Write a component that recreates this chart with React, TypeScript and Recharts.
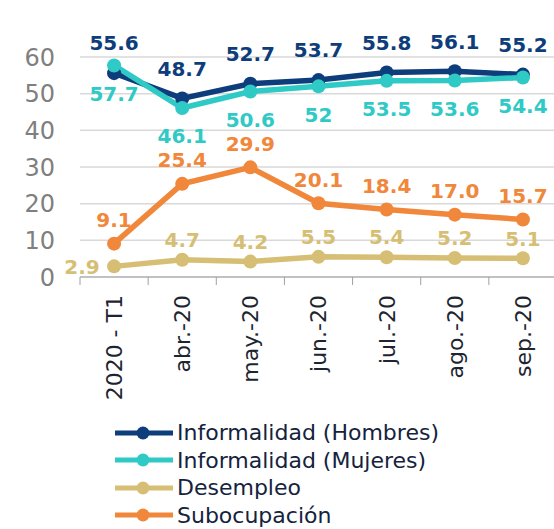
import {
  LineChart,
  Line,
  XAxis,
  YAxis,
  CartesianGrid,
  Legend,
} from 'recharts';

const periods = ['2020 - T1', 'abr.-20', 'may.-20', 'jun.-20', 'jul.-20', 'ago.-20', 'sep.-20'];
const hombres = [55.6, 48.7, 52.7, 53.7, 55.8, 56.1, 55.2];
const mujeres = [57.7, 46.1, 50.6, 52, 53.5, 53.6, 54.4];
const desempleo = [2.9, 4.7, 4.2, 5.5, 5.4, 5.2, 5.1];
const subocupacion = [9.1, 25.4, 29.9, 20.1, 18.4, 17.0, 15.7];
const yTicks = [0, 10, 20, 30, 40, 50, 60];

const data = periods.map((p, i) => ({
  period: p,
  hombres: hombres[i],
  mujeres: mujeres[i],
  desempleo: desempleo[i],
  subocupacion: subocupacion[i],
}));

const FONT = '"DejaVu Sans", "Liberation Sans", Arial, sans-serif';
const AXIS_GRAY = '#a0a0a0';

const SERIES = [
  { key: 'hombres', name: 'Informalidad (Hombres)', color: '#0d3d7a' },
  { key: 'mujeres', name: 'Informalidad (Mujeres)', color: '#2fcac6' },
  { key: 'desempleo', name: 'Desempleo', color: '#d6bf74' },
  { key: 'subocupacion', name: 'Subocupación', color: '#f0873a' },
];

// label renderer: offset from the point, optional override for the first point
const makeLabel =
  (color: string, dy: number, fmt: (v: number) => string, firstDx?: number) =>
  (props: any) => {
    const { x, y, value, index } = props;
    const left = index === 0 && firstDx !== undefined;
    return (
      <text
        x={left ? x + firstDx : x}
        y={left ? y : y + dy}
        dy="0.36em"
        textAnchor="middle"
        fill={color}
        fontFamily={FONT}
        fontWeight="bold"
        fontSize={20}
      >
        {fmt(value)}
      </text>
    );
  };

// rotated label + Excel-style tick marks between categories
const XTick = (props: any) => {
  const { x, y, payload, index, visibleTicksCount, width } = props;
  const half = width && visibleTicksCount ? width / visibleTicksCount / 2 : 0;
  const last = index === visibleTicksCount - 1;
  return (
    <g>
      <line x1={x - half} y1={y - 8} x2={x - half} y2={y} stroke={AXIS_GRAY} />
      {last && <line x1={x + half} y1={y - 8} x2={x + half} y2={y} stroke={AXIS_GRAY} />}
      <text
        transform={`translate(${x},${y + 10}) rotate(-90)`}
        textAnchor="end"
        dy="0.36em"
        fill="#1e2530"
        fontFamily={FONT}
        fontSize={22}
      >
        {payload.value}
      </text>
    </g>
  );
};

const renderLegend = () => (
  <div style={{ paddingLeft: 115, fontFamily: FONT, fontSize: 22, color: '#14233d' }}>
    {SERIES.map((s) => (
      <div key={s.key} style={{ display: 'flex', alignItems: 'center', height: 27.5 }}>
        <svg width={58} height={14} style={{ marginRight: 4 }}>
          <line x1={0} y1={7} x2={58} y2={7} stroke={s.color} strokeWidth={5} />
          <circle cx={28} cy={7} r={6.5} fill={s.color} />
        </svg>
        <span style={{ lineHeight: '27px' }}>{s.name}</span>
      </div>
    ))}
  </div>
);

export default function App() {
  return (
    <div style={{ position: 'absolute', left: 0, top: 0, width: 554, height: 529, overflow: 'hidden', background: '#fff' }}>
      <LineChart
        width={560}
        height={529}
        data={data}
        margin={{ top: 57, right: 3, left: 0, bottom: 0 }}
      >
        <CartesianGrid horizontal vertical={false} stroke="#d9d9d9" strokeWidth={1.5} />
        <XAxis
          dataKey="period"
          scale="band"
          height={142}
          stroke={AXIS_GRAY}
          axisLine={{ stroke: AXIS_GRAY, strokeWidth: 1 }}
          tickLine={false}
          tickSize={8}
          tickMargin={0}
          interval={0}
          tick={<XTick />}
        />
        <YAxis
          width={80}
          domain={[0, 60]}
          ticks={yTicks}
          axisLine={false}
          tickLine={false}
          tickSize={0}
          tickMargin={25}
          tick={{ fill: '#7f7f7f', fontSize: 24, fontFamily: FONT }}
        />
        <Legend verticalAlign="bottom" height={110} content={renderLegend} />
        <Line
          dataKey="hombres"
          stroke="#0d3d7a"
          strokeWidth={5.5}
          dot={{ r: 7, fill: '#0d3d7a', stroke: '#0d3d7a', strokeWidth: 0 }}
          isAnimationActive={false}
          label={makeLabel('#0d3d7a', -30, (v) => String(v))}
        />
        <Line
          dataKey="mujeres"
          stroke="#2fcac6"
          strokeWidth={5.5}
          dot={{ r: 7, fill: '#2fcac6', stroke: '#2fcac6', strokeWidth: 0 }}
          isAnimationActive={false}
          label={makeLabel('#2fcac6', 28, (v) => String(v))}
        />
        <Line
          dataKey="desempleo"
          stroke="#d6bf74"
          strokeWidth={5.5}
          dot={{ r: 7, fill: '#d6bf74', stroke: '#d6bf74', strokeWidth: 0 }}
          isAnimationActive={false}
          label={makeLabel('#d6bf74', -20, (v) => v.toFixed(1), -32)}
        />
        <Line
          dataKey="subocupacion"
          stroke="#f0873a"
          strokeWidth={5.5}
          dot={{ r: 7, fill: '#f0873a', stroke: '#f0873a', strokeWidth: 0 }}
          isAnimationActive={false}
          label={makeLabel('#f0873a', -24, (v) => v.toFixed(1))}
        />
      </LineChart>
    </div>
  );
}
